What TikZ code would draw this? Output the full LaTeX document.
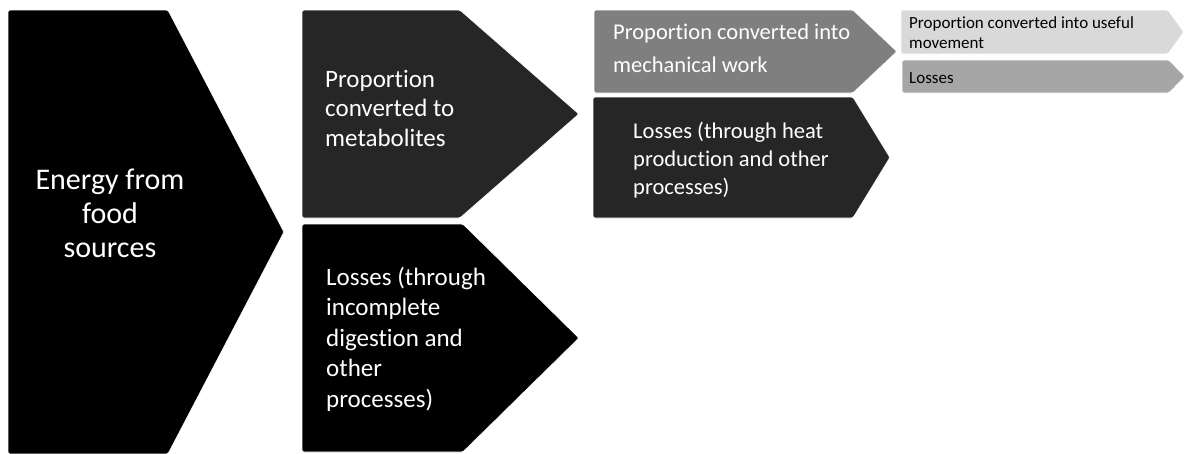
\documentclass[tikz,border=0pt]{standalone}
\usepackage{fontspec}
\setmainfont{Carlito}[Ligatures=NoCommon]
\definecolor{cA}{HTML}{000000}
\definecolor{cB}{HTML}{262626}
\definecolor{cC}{HTML}{7F7F7F}
\definecolor{cD}{HTML}{D9D9D9}
\definecolor{cE}{HTML}{A6A6A6}
\tikzset{
  arrowshape/.style={draw=white, line width=0.8pt, rounded corners=1.5pt},
  wtext/.style={text=white, inner sep=0pt, align=left, anchor=base west},
  btext/.style={text=black, inner sep=0pt, align=left, anchor=base west},
}
\begin{document}
\begin{tikzpicture}[x=1pt, y=-1pt]
\useasboundingbox (0,0) rectangle (1192,453);
% level 1
\path[arrowshape, fill=cA] (8,10) -- (168,10) -- (284,232) -- (168,454) -- (8,454) -- cycle;
% level 2
\path[arrowshape, fill=cB] (302,10) -- (460,10) -- (579,114) -- (460,218) -- (302,218) -- cycle;
\path[arrowshape, fill=cA] (302,224) -- (463,224) -- (579,338) -- (463,452) -- (302,452) -- cycle;
% level 3
\path[arrowshape, fill=cC] (594,10) -- (853,10) -- (897,51.5) -- (853,93) -- (594,93) -- cycle;
\path[arrowshape, fill=cB] (593,97) -- (853,97) -- (890,157.5) -- (853,218) -- (593,218) -- cycle;
% level 4
\path[arrowshape, fill=cD] (901,10) -- (1168,10) -- (1184,32) -- (1168,54) -- (901,54) -- cycle;
\path[arrowshape, fill=cE] (902,60) -- (1169,60) -- (1185,76.5) -- (1169,93) -- (902,93) -- cycle;
% texts (anchor on the baseline of the last line)
\node[text=white, inner sep=0pt, align=center, anchor=base,
      font=\fontsize{30}{34}\selectfont] (t1) at (110,257) {Energy from\\food\\sources};
\node[wtext, font=\fontsize{25}{29.5}\selectfont] (t2) at (325,146) {Proportion\\converted to\\metabolites};
\node[wtext, font=\fontsize{25}{30.5}\selectfont] (t3) at (326,407) {Losses (through\\incomplete\\digestion and\\other\\processes)};
\node[wtext, font=\fontsize{22.5}{33}\selectfont] (t4) at (613,72) {Proportion converted into\\mechanical work};
\node[wtext, font=\fontsize{22.5}{28}\selectfont] (t5) at (633,194) {Losses (through heat\\production and other\\processes)};
\node[btext, font=\fontsize{17}{20}\selectfont] (t6) at (909,48) {Proportion converted into useful\\movement};
\node[btext, font=\fontsize{17}{20}\selectfont] (t7) at (909,83) {Losses};
\end{tikzpicture}
\end{document}
